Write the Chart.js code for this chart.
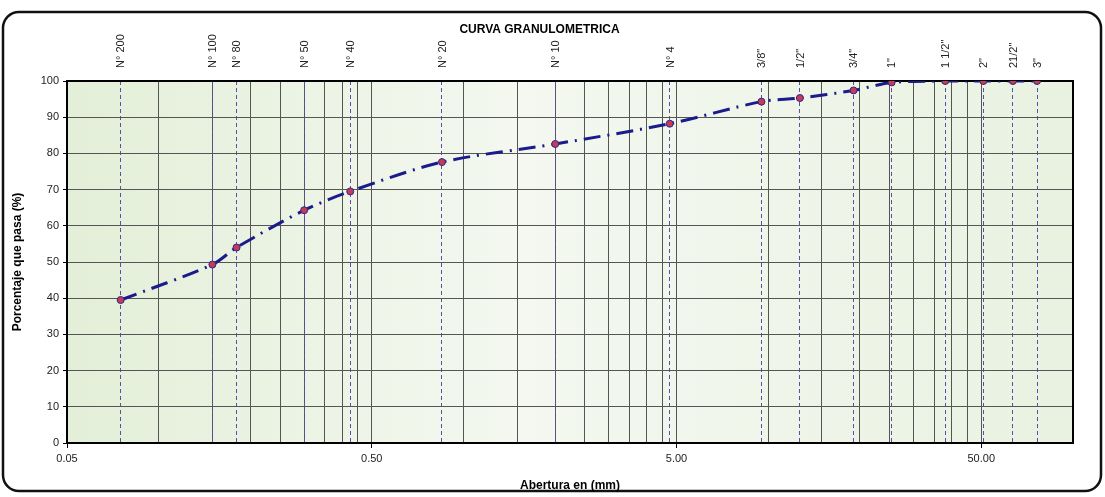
<!DOCTYPE html>
<html>
<head>
<meta charset="utf-8">
<script src="https://cdn.jsdelivr.net/npm/chart.js@4.4.1/dist/chart.umd.min.js"></script>
<style>
    html, body { margin: 0; padding: 0; background: #ffffff; }
    #wrap { width: 1105px; height: 497px; }
</style>
</head>
<body>
<div id="wrap"><canvas id="granuloChart" width="1105" height="497"></canvas></div>
<script>
const sieveLabels = ["N° 200", "N° 100", "N° 80", "N° 50", "N° 40", "N° 20", "N° 10", "N° 4",
    "3/8\"", "1/2\"", "3/4\"", "1\"", "1 1/2\"", "2\"", "21/2\"", "3\""];
const sieveOpenings = [0.075, 0.15, 0.18, 0.3, 0.425, 0.85, 2.0, 4.75,
    9.5, 12.7, 19.05, 25.4, 38.1, 50.8, 63.5, 76.2];
const percentPassing = [39.5, 49.3, 54.0, 64.3, 69.5, 77.6, 82.6, 88.2,
    94.3, 95.3, 97.4, 99.6, 100, 100, 100, 100];

const xMajorTicks = [0.05, 0.5, 5, 50];
const xMin = 0.05;
const xMax = 100;
const yTicks = [0, 10, 20, 30, 40, 50, 60, 70, 80, 90, 100];

const FONT = "'Liberation Sans', Arial, sans-serif";

// excel style minor grid: k * start of each decade
function buildLogGrid() {
    const values = [];
    xMajorTicks.forEach((d) => {
        for (let k = 1; k <= 9; k++) {
            const v = Number((d * k).toPrecision(6));
            if (v <= xMax) values.push(v);
        }
    });
    if (values[values.length - 1] !== xMax) values.push(xMax);
    return Array.from(new Set(values)).sort((a, b) => a - b);
}
const xGridValues = buildLogGrid();

function isMajor(v) {
    return xMajorTicks.some((m) => Math.abs(m - v) < 1e-9);
}

const chartFrame = {
    id: "chartFrame",
    beforeDraw(chart) {
        const { ctx, chartArea } = chart;
        ctx.save();
        ctx.fillStyle = "#ffffff";
        ctx.fillRect(0, 0, chart.width, chart.height);

        // outer rounded border
        ctx.strokeStyle = "#111111";
        ctx.lineWidth = 2.5;
        ctx.beginPath();
        ctx.roundRect(3, 12, chart.width - 7, chart.height - 18, 16);
        ctx.stroke();

        // plot background
        const g = ctx.createLinearGradient(chartArea.left, 0, chartArea.right, 0);
        g.addColorStop(0, "#e3efd8");
        g.addColorStop(0.45, "#f4f8f0");
        g.addColorStop(1, "#e9f2e1");
        ctx.fillStyle = g;
        ctx.fillRect(chartArea.left, chartArea.top, chartArea.right - chartArea.left, chartArea.bottom - chartArea.top);
        ctx.restore();
    },
    beforeDatasetsDraw(chart) {
        const { ctx, chartArea } = chart;
        ctx.save();
        ctx.strokeStyle = "#000000";
        ctx.lineWidth = 2;
        ctx.strokeRect(chartArea.left, chartArea.top, chartArea.right - chartArea.left, chartArea.bottom - chartArea.top);
        ctx.restore();
    }
};

const points = sieveOpenings.map((x, i) => ({ x: x, y: percentPassing[i] }));

new Chart(document.getElementById("granuloChart"), {
    type: "line",
    data: {
        datasets: [{
            label: "Curva",
            data: points,
            xAxisID: "x",
            yAxisID: "y",
            borderColor: "#1b1b8c",
            borderWidth: 3,
            borderDash: [17, 7, 2, 7],
            tension: 0.3,
            fill: false,
            pointRadius: 3.5,
            pointBackgroundColor: "#c8385a",
            pointBorderColor: "#2b2b80",
            pointBorderWidth: 1
        }]
    },
    options: {
        responsive: false,
        animation: false,
        devicePixelRatio: 1,
        layout: {
            padding: { left: 6, right: 32, top: 0, bottom: 0 }
        },
        plugins: {
            legend: { display: false },
            tooltip: { enabled: false },
            title: {
                display: true,
                text: "CURVA GRANULOMETRICA",
                color: "#000000",
                font: { family: FONT, size: 12, weight: "bold" },
                padding: { top: 22, bottom: -14 }
            }
        },
        scales: {
            x: {
                type: "logarithmic",
                position: "bottom",
                min: xMin,
                max: xMax,
                afterBuildTicks: (scale) => {
                    scale.ticks = xGridValues.map((v) => ({ value: v }));
                },
                afterFit: (scale) => { scale.height = 54; },
                ticks: {
                    autoSkip: false,
                    maxRotation: 0,
                    minRotation: 0,
                    padding: 4,
                    color: "#222222",
                    font: { family: FONT, size: 11 },
                    callback: (value) => (isMajor(value) ? value.toFixed(2) : "")
                },
                grid: {
                    color: "#555555",
                    lineWidth: 1,
                    drawTicks: true,
                    tickLength: 5,
                    tickColor: (ctx) => (ctx.tick && isMajor(ctx.tick.value) ? "#000000" : "rgba(0,0,0,0)")
                },
                border: { display: false },
                title: {
                    display: true,
                    text: "Abertura en (mm)",
                    color: "#000000",
                    font: { family: FONT, size: 12, weight: "bold" },
                    padding: { top: 4, bottom: 4 }
                }
            },
            x2: {
                type: "logarithmic",
                position: "top",
                min: xMin,
                max: xMax,
                afterBuildTicks: (scale) => {
                    scale.ticks = sieveOpenings.map((v) => ({ value: v }));
                },
                afterFit: (scale) => { scale.height = 58.6; },
                ticks: {
                    autoSkip: false,
                    maxRotation: 90,
                    minRotation: 90,
                    padding: 13,
                    labelOffset: 14,
                    color: "#222222",
                    font: { family: FONT, size: 11 },
                    callback: (value, index) => sieveLabels[index]
                },
                grid: {
                    color: "#5a4fa8",
                    lineWidth: 1,
                    drawTicks: false
                },
                border: { display: false, dash: [4, 3] }
            },
            y: {
                type: "linear",
                position: "left",
                min: 0,
                max: 100,
                afterBuildTicks: (scale) => {
                    scale.ticks = yTicks.map((v) => ({ value: v }));
                },
                afterFit: (scale) => { scale.width = 61; },
                ticks: {
                    padding: 4,
                    color: "#222222",
                    font: { family: FONT, size: 11 }
                },
                grid: {
                    color: "#555555",
                    lineWidth: 1,
                    drawTicks: true,
                    tickLength: 4,
                    tickColor: "#000000"
                },
                border: { display: false },
                title: {
                    display: true,
                    text: "Porcentaje que pasa (%)",
                    color: "#000000",
                    font: { family: FONT, size: 12, weight: "bold" },
                    padding: { top: 4, bottom: 4 }
                }
            }
        }
    },
    plugins: [chartFrame]
});
</script>
</body>
</html>
